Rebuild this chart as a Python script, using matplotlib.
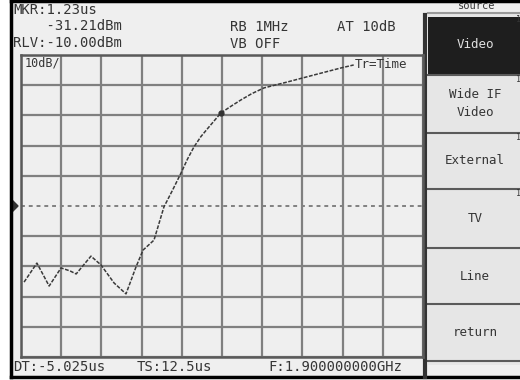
import matplotlib.pyplot as plt
import numpy as np
from matplotlib.patches import Rectangle, Polygon

# sweep: time (us) vs level (dBm)
t_us = [-4.93, -4.53, -4.15, -3.78, -3.50, -3.31, -2.85, -2.54, -2.13, -1.76,
        -1.45, -1.23, -0.89, -0.58, -0.31, -0.05, 0.15, 0.35, 0.57, 0.79,
        1.19, 1.50, 1.81, 2.15, 2.53, 3.27, 4.09, 4.92, 5.32]
level_dbm = [-85.2, -78.9, -86.5, -80.5, -81.5, -82.5, -76.6, -79.5, -85.5, -89.1,
             -80.2, -74.6, -71.3, -60.3, -54.7, -49.1, -44.5, -40.5, -37.0, -34.2,
             -29.2, -27.0, -24.9, -22.8, -20.9, -18.9, -16.6, -14.3, -13.3]
marker_t = 1.19
marker_dbm = -29.2

ref_level = -10.0
db_per_div = 10
delay_us = -5.025
span_us = 12.5
n_div = 10

header_left = ["MKR:1.23us", "    -31.21dBm", "RLV:-10.00dBm"]
header_mid = ["RB 1MHz", "VB OFF"]
footer = ["DT:-5.025us", "TS:12.5us", "F:1.900000000GHz"]
softkeys = ["Video", "Wide IF\nVideo", "External", "TV", "Line", "return"]

W, H = 520, 380
ink = "#353535"
bg = "#efefef"
grid_c = "#808080"
mono = "DejaVu Sans Mono"

fig = plt.figure(figsize=(W / 100, H / 100), dpi=100)
fig.patch.set_facecolor("white")

# full-screen pixel axes for the screen decorations
scr = fig.add_axes([0, 0, 1, 1])
scr.set_xlim(0, W)
scr.set_ylim(H, 0)
scr.axis("off")
scr.add_patch(Rectangle((11, 1), W - 11, 376, facecolor=bg, edgecolor="none"))
scr.plot([11, W], [1, 1], color="black", lw=2.5)
scr.plot([11, 11], [1, 377], color="black", lw=2.5)
scr.plot([11, W], [377, 377], color="black", lw=2.5)

# header text
for i, s in enumerate(header_left):
    scr.text(13, 10 + i * 16.5, s, family=mono, fontsize=10, color=ink, va="center")
for i, s in enumerate(header_mid):
    scr.text(230, 27 + i * 16.5, s, family=mono, fontsize=10, color=ink, va="center")
scr.text(337, 27, "AT 10dB", family=mono, fontsize=10, color=ink, va="center")

# footer text
for x, s in zip([13, 137, 268], footer):
    scr.text(x, 367, s, family=mono, fontsize=10, color=ink, va="center")

# softkey panel
px0 = 428
scr.add_patch(Rectangle((px0, 13), W - px0, 352, facecolor="#e6e6e6", edgecolor="none"))
scr.add_patch(Rectangle((px0, 17), W - px0, 57, facecolor="#1e1e1e", edgecolor="none"))
scr.plot([px0, W], [13, 13], color="#9a9a9a", lw=1.5)
scr.text(477, 6, "source", family=mono, fontsize=7.5, color=ink, ha="center", va="center")
for y in [75, 133, 189, 248, 304, 361]:
    scr.plot([px0, W], [y, y], color="#5a5a5a", lw=1.5)
scr.plot([425, 425], [15, 377], color="#333333", lw=3)
key_y = [45, 104, 161, 218, 276, 332]
for y, s in zip(key_y, softkeys):
    scr.text(475, y, s, family=mono, fontsize=9, ha="center", va="center",
             color="#e0e0e0" if s == "Video" else ink, linespacing=1.5)
for y in [20, 80, 138, 194]:
    scr.text(516, y, "1", family=mono, fontsize=6, color=ink, va="center")

# reference level arrow and trigger marker
scr.add_patch(Polygon([[12, 200], [12, 212], [18, 206]], closed=True, color="#333333"))
scr.add_patch(Polygon([[173, 342], [183, 342], [180, 354]], closed=True, color="#333333"))

# graticule axes
gx0, gx1, gy0, gy1 = 21, 423, 55, 357
ax = fig.add_axes([gx0 / W, 1 - gy1 / H, (gx1 - gx0) / W, (gy1 - gy0) / H])
ax.set_facecolor(bg)
x_lo, x_hi = delay_us, delay_us + span_us
y_lo, y_hi = ref_level - n_div * db_per_div, ref_level
ax.set_xlim(x_lo, x_hi)
ax.set_ylim(y_lo, y_hi)
ax.set_xticks(np.linspace(x_lo, x_hi, n_div + 1))
yt = np.linspace(y_lo, y_hi, n_div + 1)
ax.set_yticks([v for k, v in enumerate(yt) if k != n_div // 2])
ax.grid(True, color=grid_c, lw=1.6)
ax.axhline(ref_level - 5 * db_per_div, color=grid_c, lw=1.4, ls=(0, (2, 2)))
ax.tick_params(length=0, labelbottom=False, labelleft=False)
for sp in ax.spines.values():
    sp.set_color("#5a5a5a")
    sp.set_linewidth(1.8)

ax.plot(t_us, level_dbm, color="#3a3a3a", lw=1.1, ls=(0, (2.5, 1)))
ax.plot([marker_t], [marker_dbm], "o", color="#333333", ms=3.5)
ax.text(0.01, 0.995, "10dB/", transform=ax.transAxes, family=mono, fontsize=8.5,
        color=ink, va="top", ha="left")
ax.text(0.83, 0.97, "Tr=Time", transform=ax.transAxes, family=mono, fontsize=9,
        color=ink, va="center", ha="left")

fig.savefig("out.png", dpi=100)
